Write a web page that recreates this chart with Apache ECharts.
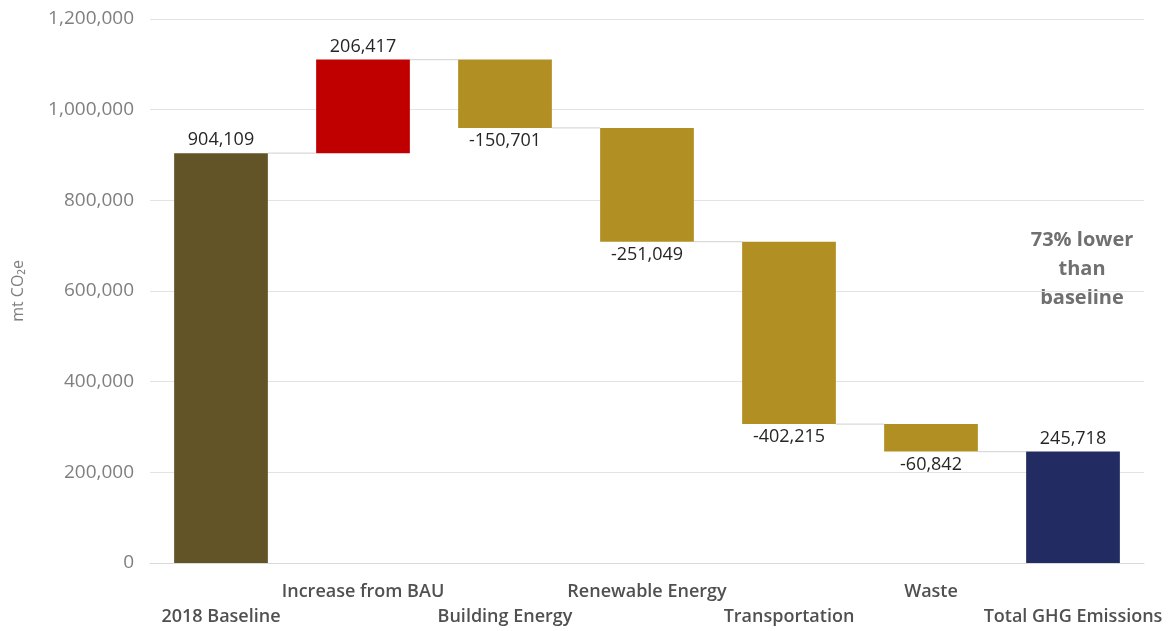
<!DOCTYPE html>
<html><head><meta charset="utf-8">
<script src="https://cdn.jsdelivr.net/npm/echarts@6/dist/echarts.min.js"></script>
<style>html,body{margin:0;padding:0;background:#fff}#c{width:1171px;height:631px}</style>
</head><body><div id="c"></div>
<script>
const categories = ['2018 Baseline','Increase from BAU','Building Energy','Renewable Energy','Transportation','Waste','Total GHG Emissions'];
const changes = [904109, 206417, -150701, -251049, -402215, -60842];
const totalValue = 245718;
const yTicks = {min: 0, max: 1200000, interval: 200000};
const annotation = '73% lower\nthan\nbaseline';

const colors = ['#625427','#c00000','#b28f22','#b28f22','#b28f22','#b28f22','#222b62'];

// Build waterfall base/height from the data
const base = [], height = [], signed = [], levels = [];
let cum = 0;
changes.forEach((d, i) => {
  const next = cum + d;
  base.push(Math.min(cum, next));
  height.push(Math.abs(d));
  signed.push(d);
  cum = next;
  levels.push(cum);
});
base.push(0); height.push(totalValue); signed.push(totalValue);

const fmt = v => Math.round(v).toLocaleString('en-US');
const connectors = levels.map((lv, i) => [i, lv]);

const chart = echarts.init(document.getElementById('c'));
chart.setOption({
  animation: false,
  grid: {left: 150, right: 27, top: 19, bottom: 68, containLabel: false, outerBoundsMode: 'none'},
  xAxis: {
    type: 'category', data: categories,
    axisLine: {lineStyle: {color: '#d9d9d9'}},
    axisTick: {show: false},
    axisLabel: {
      interval: 0, margin: 16,
      color: '#505050', fontFamily: 'Open Sans', fontWeight: 600, fontSize: 18, lineHeight: 25,
      formatter: (v, i) => (i % 2 === 0 ? '\n' + v : v + '\n')
    }
  },
  yAxis: {
    type: 'value', min: yTicks.min, max: yTicks.max, interval: yTicks.interval,
    name: 'mt CO\u2082e', nameLocation: 'middle', nameGap: 124, nameRotate: 90,
    nameTextStyle: {color: '#7f7f7f', fontFamily: 'Open Sans', fontSize: 16},
    axisLine: {show: false}, axisTick: {show: false},
    axisLabel: {color: '#7f7f7f', fontFamily: 'Open Sans', fontSize: 19, margin: 16, formatter: fmt},
    splitLine: {lineStyle: {color: '#e3e3e3'}}
  },
  graphic: [{
    type: 'text', x: 1082, y: 226,
    style: {text: annotation, fill: '#707070', font: 'bold 20px "Open Sans"', align: 'center', lineHeight: 29}
  }],
  series: [
    {
      type: 'bar', stack: 'w', data: base, barCategoryGap: '34%',
      itemStyle: {color: 'transparent'}, silent: true
    },
    {
      type: 'bar', stack: 'w', barCategoryGap: '34%',
      data: height.map((h, i) => ({
        value: h,
        itemStyle: {color: colors[i]},
        label: {
          show: true,
          position: signed[i] < 0 ? 'bottom' : 'top',
          distance: 4,
          formatter: () => fmt(signed[i]),
          color: '#262626', fontFamily: 'Open Sans', fontSize: 18
        }
      }))
    },
    {
      type: 'custom', data: connectors, z: 1, silent: true,
      renderItem: (params, api) => {
        const i = api.value(0), lv = api.value(1);
        const p1 = api.coord([i, lv]);
        const p2 = api.coord([i + 1, lv]);
        const band = api.size([1, 0])[0];
        const half = band * 0.33;
        return {
          type: 'line',
          shape: {x1: p1[0] + half, y1: p1[1], x2: p2[0] - half, y2: p2[1]},
          style: {stroke: '#d9d9d9', lineWidth: 1.2}
        };
      }
    }
  ]
});
</script></body></html>
